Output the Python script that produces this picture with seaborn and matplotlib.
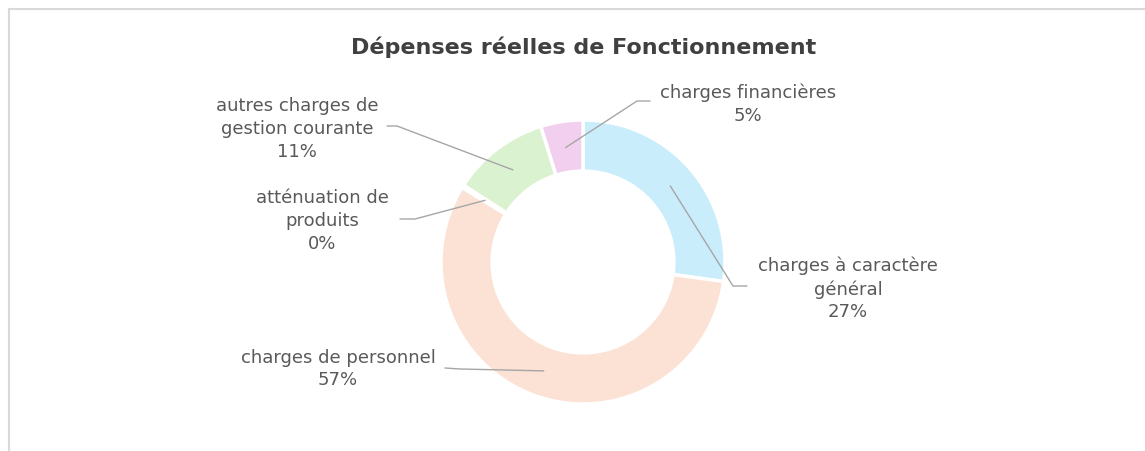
import numpy as np
import matplotlib
matplotlib.use("Agg")
import matplotlib.pyplot as plt
import seaborn as sns

# data (clockwise from 12 o'clock)
categories = [
    "charges à caractère\ngénéral",
    "charges de personnel",
    "atténuation de\nproduits",
    "autres charges de\ngestion courante",
    "charges financières",
]
values = [27.2, 56.6, 0.3, 11.1, 4.8]
pct_labels = ["27%", "57%", "0%", "11%", "5%"]
colors = ["#CAEDFB", "#FBE2D5", "#FBE2D5", "#DAF2D0", "#F2CFEE"]

sns.set_theme(style="white")
plt.rcParams["font.family"] = ["DejaVu Sans"]

W, H = 1145, 452
fig = plt.figure(figsize=(W / 100, H / 100), dpi=100)
ax = fig.add_axes([0, 0, 1, 1])

# pixel geometry of the donut
cx, cy, R = 583, 263, 142


def px(x, y):
    return (x - cx) / R, (cy - y) / R


wedges, _ = ax.pie(
    values,
    colors=colors,
    startangle=90,
    counterclock=False,
    radius=1,
    wedgeprops=dict(width=0.36, edgecolor="white", linewidth=2.5),
)

x0, _ = px(0, 0)
x1, _ = px(W, 0)
_, y0 = px(0, H)
_, y1 = px(0, 0)
ax.set_aspect("auto")
ax.set_xlim(x0, x1)
ax.set_ylim(y0, y1)
ax.axis("off")

# label layout: (text centre, elbow, line end) in pixels
layout = [
    ((848, 289), (733, 287), (747, 287)),
    ((338, 369), (460, 370), (445, 369)),
    ((322, 221), (415, 220), (400, 220)),
    ((297, 129), (397, 127), (387, 127)),
    ((748, 104), (637, 102), (650, 102)),
]

text_col = "#595959"
line_col = "#A6A6A6"
r_anchor = 0.815

for w, cat, pct, (tpos, elbow, end) in zip(wedges, categories, pct_labels, layout):
    ang = np.deg2rad((w.theta1 + w.theta2) / 2)
    ax_, ay_ = r_anchor * np.cos(ang), r_anchor * np.sin(ang)
    ex, ey = px(*elbow)
    fx, fy = px(*end)
    ax.plot([ax_, ex, fx], [ay_, ey, fy], color=line_col, lw=1)
    tx, ty = px(*tpos)
    ax.text(tx, ty, cat + "\n" + pct, ha="center", va="center",
            color=text_col, fontsize=13, linespacing=1.35)

fig.text(584 / W, 1 - 47 / H, "Dépenses réelles de Fonctionnement",
         ha="center", va="center", fontsize=16, fontweight="bold",
         color="#404040")

# chart area frame (top and left edges visible)
fig.add_artist(plt.Line2D([9 / W, 1], [1 - 10 / H, 1 - 10 / H],
                          color="#D9D9D9", lw=1.5))
fig.add_artist(plt.Line2D([9 / W, 9 / W], [0, 1 - 10 / H],
                          color="#D9D9D9", lw=1.5))

fig.savefig("out.png", dpi=100, facecolor="white")
